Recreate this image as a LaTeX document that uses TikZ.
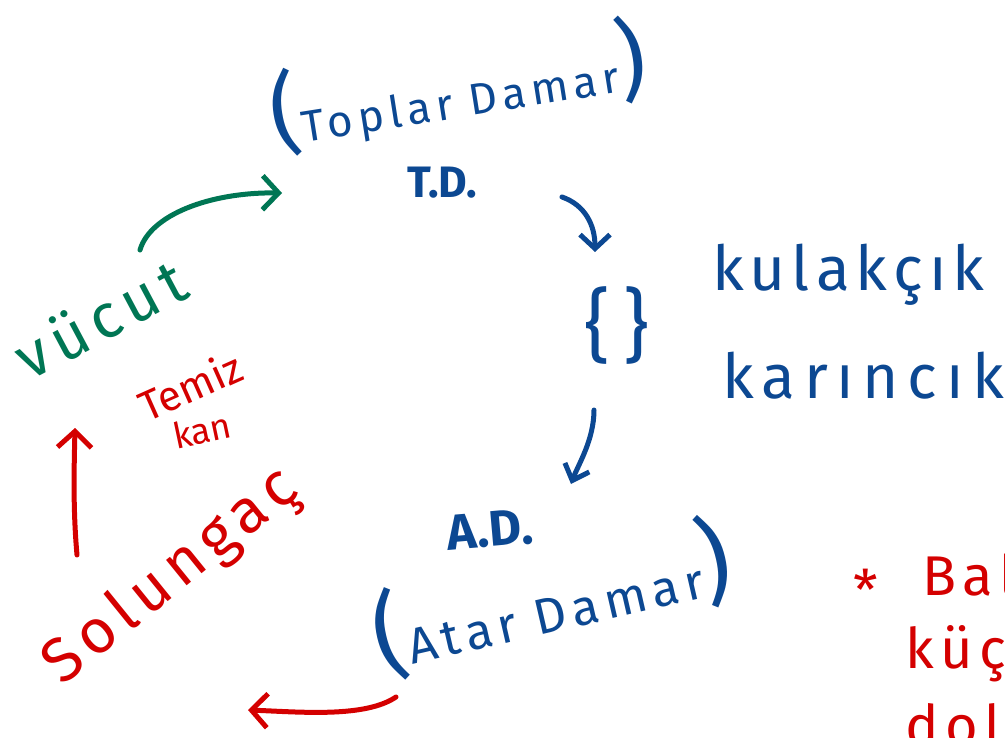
\documentclass[tikz,border=0pt]{standalone}
\usepackage{fontspec}
\setmainfont{Fira Sans}
\usetikzlibrary{arrows.meta}

\definecolor{inkblue}{RGB}{12,72,146}
\definecolor{inkgreen}{RGB}{0,118,84}
\definecolor{inkred}{RGB}{212,0,0}
\newcommand{\fsz}[1]{\fontsize{#1}{#1}\selectfont}
\newcommand{\wide}[1]{\addfontfeature{LetterSpace=#1}}

\begin{document}
\begin{tikzpicture}[x=1pt,y=-1pt,
        blueink/.style={text=inkblue,inner sep=0pt},
        greenink/.style={text=inkgreen,inner sep=0pt},
        redink/.style={text=inkred,inner sep=0pt},
        pen/.style={line width=5pt,line cap=round,-{Straight Barb[length=16pt,width=34pt]}}]
        \useasboundingbox (0,0) rectangle (1005,738);
        \clip (0,0) rectangle (1005,738);

        % blood vessels and heart
        \node[blueink,rotate=9,font=\fsz{44}\wide{12}] (toplar) at (458,86) {{\fsz{90}(}Toplar Damar{\fsz{90})}};
        \node[blueink,font=\fsz{44}\bfseries] (td) at (442,183) {T.D.};
        \node[blueink,font=\fsz{80}] (kalp) at (617,325) {\{\,\}};
        \node[blueink,font=\fsz{62}\wide{10},anchor=base west] (kulakcik) at (712,291) {kulakçık};
        \node[blueink,font=\fsz{62}\wide{14},anchor=base west] (karincik) at (722,398) {karıncık};
        \node[blueink,rotate=5,font=\fsz{50}\bfseries] (ad) at (490,530) {A.D.};
        \node[blueink,rotate=13,font=\fsz{50}\wide{12}] (atar) at (552,598) {{\fsz{96}(}Atar Damar{\fsz{96})}};

        % body and gills
        \node[greenink,rotate=28,font=\fsz{62}\wide{12}] (vucut) at (100,318) {vücut};
        \node[redink,rotate=24,font=\fsz{42}] (temiz) at (190,386) {Temiz};
        \node[redink,rotate=12,font=\fsz{36}] (kan) at (202,430) {kan};
        \node[redink,rotate=39,font=\fsz{62}\wide{12}] (solungac) at (172,578) {Solungaç};

        % note at the right edge
        \node[redink,font=\fsz{56}] (yildiz) at (866,590) {*};
        \node[redink,font=\fsz{56}\wide{12},anchor=base west] (bal) at (922,595) {Bal};
        \node[redink,font=\fsz{56}\wide{12},anchor=base west] (kuc) at (905,668) {küç};
        \node[redink,font=\fsz{56}\wide{12},anchor=base west] (dol) at (905,745) {dol};

        \coordinate (gbas) at (140,250);
        \coordinate (gson) at (282,193);
        \coordinate (mbas1) at (562,197);
        \coordinate (mson1) at (595,252);
        \coordinate (mbas2) at (594,410);
        \coordinate (mson2) at (571,484);
        \coordinate (kbas1) at (77,555);
        \coordinate (kson1) at (75,428);
        \coordinate (kbas2) at (396,697);
        \coordinate (kson2) at (248,710);

        \draw[pen,inkgreen] (gbas) .. controls (150,215) and (210,192) .. (gson);
        \draw[pen,inkblue,-{Straight Barb[length=14pt,width=30pt]}] (mbas1) .. controls (585,205) and (595,225) .. (mson1);
        \draw[pen,inkblue,-{Straight Barb[length=14pt,width=26pt]}] (mbas2) .. controls (594,440) and (578,465) .. (mson2);
        \draw[pen,inkred] (kbas1) .. controls (73,510) and (74,470) .. (kson1);
        \draw[pen,inkred] (kbas2) .. controls (365,718) and (300,712) .. (kson2);
    \end{tikzpicture}
\end{document}
